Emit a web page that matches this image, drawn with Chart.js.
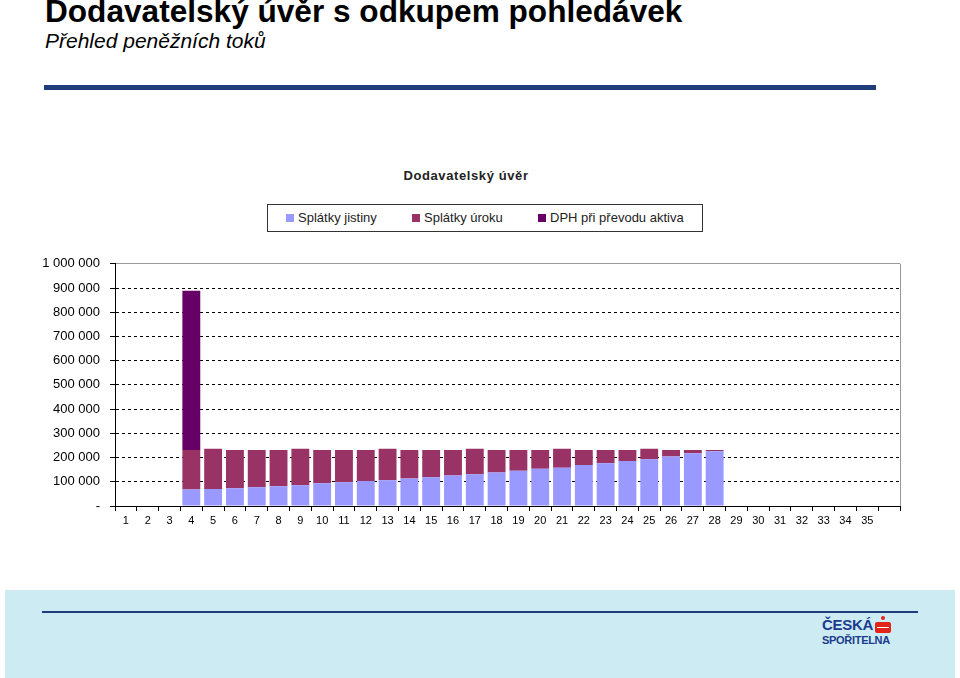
<html>
  <head>
   <title>Dodavatelský úvěr</title>
   <script src="https://cdn.jsdelivr.net/npm/chart.js@4.4.1/dist/chart.umd.min.js"></script>
   <style>
    body{
      margin:0;
      width:960px;
      height:678px;
      position:relative;
      background:#fff;
      font-family:"Liberation Sans", Arial, sans-serif;
      overflow:hidden;
    }
    #head{
      position:absolute; left:45px; top:-7px;
      font-size:31.6px; font-weight:bold; color:#000; white-space:nowrap;
    }
    #sub{
      position:absolute; left:45px; top:29px;
      font-size:21px; font-style:italic; color:#000; white-space:nowrap;
    }
    #topline{
      position:absolute; left:44px; top:85px; width:832px; height:5px; background:#1f3d7a;
    }
    #ctitle{
      position:absolute; left:266px; width:400px; top:168px; text-align:center;
      font-size:13px; font-weight:bold; letter-spacing:0.6px; color:#222;
    }
    #legendbox{
      position:absolute; left:267px; top:204px; width:434px; height:26px;
      border:1px solid #333; font-size:13px; color:#222;
    }
    .leg{ position:absolute; top:5px; white-space:nowrap; }
    .sw{ display:inline-block; width:8px; height:8px; margin-right:4px; }
    #wrap{
      position:absolute; left:38px; top:246px; width:880px; height:299px;
    }
    #footer{
      position:absolute; left:5px; top:590px; width:950px; height:88px; background:#cdebf3;
    }
    #footline{
      position:absolute; left:37px; top:21px; width:876px; height:2px; background:#1f3d7a;
    }
    #logo1{
      position:absolute; left:817px; top:26px; font-size:15px; font-weight:bold; color:#1b3c8c; letter-spacing:-0.3px;
    }
    #logo2{
      position:absolute; left:817px; top:44px; font-size:11px; font-weight:bold; color:#1b3c8c; letter-spacing:-0.3px;
    }
    #logoS{
      position:absolute; left:870px; top:32px; width:16px; height:11px; background:#e2231a; border-radius:2px;
    }
    #logoS:before{
      content:""; position:absolute; left:6px; top:-6px; width:4px; height:4px; background:#e2231a; border-radius:2px;
    }
    #logoS:after{
      content:""; position:absolute; left:2px; top:5px; width:12px; height:1px; background:#fff;
    }
   </style>
  </head>

  <body>
    <div id="head">Dodavatelský úvěr s odkupem pohledávek</div>
    <div id="sub">Přehled peněžních toků</div>
    <div id="topline"></div>

    <div id="ctitle">Dodavatelský úvěr</div>
    <div id="legendbox">
      <div class="leg" style="left:18px"><span class="sw" style="background:#9999ff"></span>Splátky jistiny</div>
      <div class="leg" style="left:144px"><span class="sw" style="background:#993366"></span>Splátky úroku</div>
      <div class="leg" style="left:270px"><span class="sw" style="background:#660066"></span>DPH při převodu aktiva</div>
    </div>

    <div id="wrap"><canvas id="bar-chart"></canvas></div>

    <div id="footer">
      <div id="footline"></div>
      <div id="logo1">ČESKÁ</div>
      <div id="logoS"></div>
      <div id="logo2">SPOŘITELNA</div>
    </div>
  </body>

  <script>
    // periods 1..35, last slot is empty
    var periods = ['1','2','3','4','5','6','7','8','9','10','11','12','13','14','15','16','17','18',
                   '19','20','21','22','23','24','25','26','27','28','29','30','31','32','33','34','35',''];

    var jistina = [0,0,0,68000,70000,73000,77000,82000,86000,94000,98000,103000,106000,114000,119000,
                   126000,131000,138000,146000,154000,158000,169000,177000,186000,193000,204000,218000,226000,
                   0,0,0,0,0,0,0,0];

    var uroky = [0,0,0,163000,166000,158000,154000,149000,150000,137000,133000,128000,130000,117000,112000,
                 105000,105000,93000,85000,77000,78000,62000,54000,45000,43000,27000,13000,5000,
                 0,0,0,0,0,0,0,0];

    var dph = [0,0,0,658000,0,0,0,0,0,0,0,0,0,0,0,0,0,0,0,0,0,0,0,0,0,0,0,0,0,0,0,0,0,0,0,0];

    var yTicks = [0,100000,200000,300000,400000,500000,600000,700000,800000,900000,1000000];

    function fmt(v){
      if (v === 0) return '-';
      return String(v).replace(/\B(?=(\d{3})+(?!\d))/g, ' ');
    }

    // gray right border of the plot area
    var rightBorder = {
      id: 'rightBorder',
      afterDraw: function(chart){
        var a = chart.chartArea, c = chart.ctx;
        c.save();
        c.strokeStyle = '#999';
        c.lineWidth = 1;
        c.beginPath();
        c.moveTo(a.right + 0.5, a.top);
        c.lineTo(a.right + 0.5, a.bottom);
        c.stroke();
        c.restore();
      }
    };

    Chart.defaults.font.family = '"Liberation Sans", Arial, sans-serif';

    new Chart(document.getElementById("bar-chart"), {
      type: 'bar',
      data: {
        labels: periods,
        datasets: [
          { label: 'Splátky jistiny', data: jistina, backgroundColor: '#9999ff', barPercentage: 0.82, categoryPercentage: 1 },
          { label: 'Splátky úroku', data: uroky, backgroundColor: '#993366', barPercentage: 0.82, categoryPercentage: 1 },
          { label: 'DPH při převodu aktiva', data: dph, backgroundColor: '#660066', barPercentage: 0.82, categoryPercentage: 1 }
        ]
      },
      options: {
        responsive: true,
        maintainAspectRatio: false,
        animation: false,
        layout: { padding: { top: 10, right: 18, bottom: 0, left: 0 } },
        plugins: {
          legend: { display: false },
          title: { display: false },
          tooltip: { enabled: false }
        },
        scales: {
          x: {
            stacked: true,
            afterFit: function(s){ s.height = 39; },
            grid: { offset: true, drawOnChartArea: false, drawTicks: true, tickLength: 5, tickColor: '#000' },
            border: { color: '#000', width: 1 },
            ticks: { color: '#000', font: { size: 11 }, padding: 3, autoSkip: false, maxRotation: 0 }
          },
          y: {
            stacked: true,
            min: 0,
            max: 1000000,
            afterFit: function(s){ s.width = 77; },
            afterBuildTicks: function(s){ s.ticks = yTicks.map(function(v){ return { value: v }; }); },
            grid: {
              color: function(ctx){ return (ctx.tick && ctx.tick.value === 1000000) ? '#999' : '#000'; },
              tickColor: '#000',
              tickLength: 5,
              tickBorderDash: []
            },
            border: {
              color: '#000',
              width: 1,
              dash: function(ctx){ return (ctx.tick && ctx.tick.value > 0 && ctx.tick.value < 1000000) ? [3, 3] : []; }
            },
            ticks: { color: '#000', font: { size: 13 }, padding: 10, callback: function(v){ return fmt(v); } }
          }
        }
      },
      plugins: [rightBorder]
    });
  </script>
</html>
